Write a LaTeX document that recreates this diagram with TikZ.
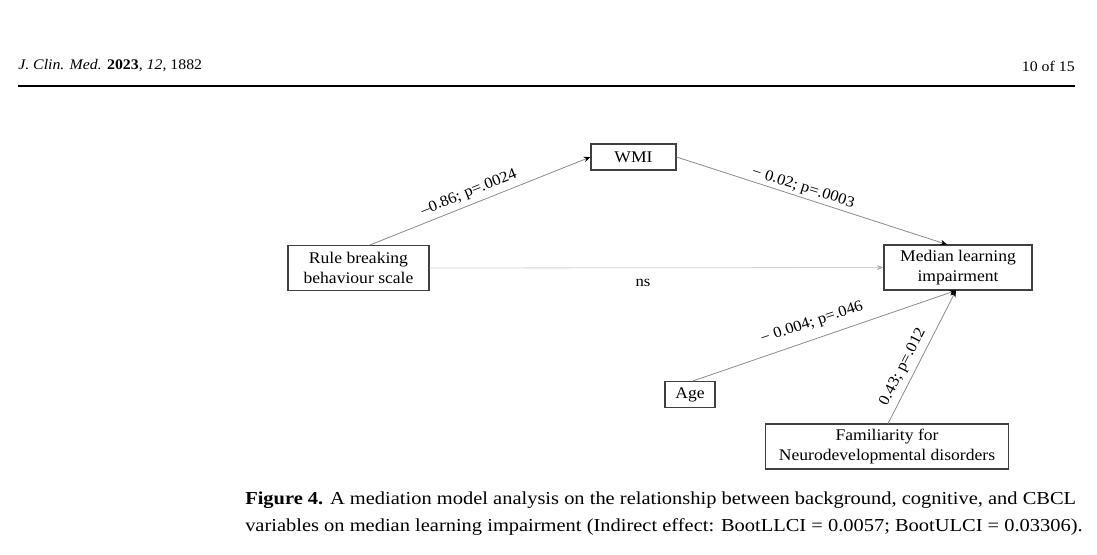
\documentclass[tikz,border=0pt]{standalone}
\usepackage{fontspec}
\setmainfont{Liberation Serif}[FakeStretch=1.08]
\newfontfamily\capfont{Liberation Serif}[FakeStretch=1.12]
\usetikzlibrary{arrows.meta}
\begin{document}
\begin{tikzpicture}[x=0.75pt,y=-0.75pt,
  box/.style={draw=black!75, line width=0.8pt, inner sep=0pt, align=center,
    font=\fontsize{12.2}{14.5}\selectfont},
  conn/.style={draw=black!45, line width=0.6pt, -{Stealth[length=5pt,width=4pt,black]}},
  nsconn/.style={draw=black!18, line width=0.6pt, -{Stealth[length=5pt,width=4pt,black!30]}},
  lbl/.style={font=\fontsize{11.6}{14}\selectfont, inner sep=0pt},
  hdr/.style={font=\fontsize{11}{13}\selectfont, inner sep=0pt},
  captext/.style={font=\capfont\fontsize{13.7}{16}\selectfont, inner sep=0pt, anchor=west}]
\useasboundingbox (0,0) rectangle (1097,554);
\fill[white] (0,0) rectangle (1097,554);

% header
\node[hdr, anchor=west] (hleft) at (18,66) {\textit{J. Clin. Med.} \textbf{2023}, \textit{12}, 1882};
\node[hdr, anchor=east] (hright) at (1075,66) {10 of 15};
\draw[line width=0.8pt] (18,86) -- (1075,86);

% nodes
\node[box, minimum width=63.75pt, minimum height=19.5pt] (wmi) at (633.5,157) {WMI};
\node[box, minimum width=105.75pt, minimum height=33.75pt] (rule) at (358.5,268) {Rule breaking\\behaviour scale};
\node[box, minimum width=111pt, minimum height=33.75pt] (med) at (958,267.5) {Median learning\\impairment};
\node[box, minimum width=37.5pt, minimum height=19.5pt] (age) at (690,394.5) {Age};
\node[box, minimum width=182.25pt, minimum height=33.75pt] (fam) at (887,446.5) {Familiarity for\\Neurodevelopmental disorders};

% connectors
\draw[conn] ([xshift=8.6pt]rule.north) -- (wmi.west);
\draw[conn] (wmi.east) -- ([xshift=-8.2pt]med.north);
\draw[nsconn] (rule.east) -- (med.west);
\draw[conn] ([xshift=2.2pt]age.north) -- ([xshift=-1.5pt]med.south);
\draw[conn] ([xshift=0.8pt]fam.north) -- ([xshift=-1.5pt]med.south);

% labels
\node[lbl, rotate=21.8] (l1) at (469,193) {–0.86; p=.0024};
\node[lbl, rotate=-17.7] (l2) at (803,188) {− 0.02; p=.0003};
\node[lbl, rotate=18.3] (l3) at (812,323) {− 0.004; p=.046};
\node[lbl, rotate=63.1] (l4) at (903,367) {0.43; p=.012};
\node[lbl] (ns) at (643,283) {ns};

% caption
\node[captext] (c1) at (245,500) {\textbf{Figure 4.} A mediation model analysis on the relationship between background, cognitive, and CBCL};
\node[captext] (c2) at (245,527) {variables on median learning impairment (Indirect effect: BootLLCI = 0.0057; BootULCI = 0.03306).};
\end{tikzpicture}
\end{document}
